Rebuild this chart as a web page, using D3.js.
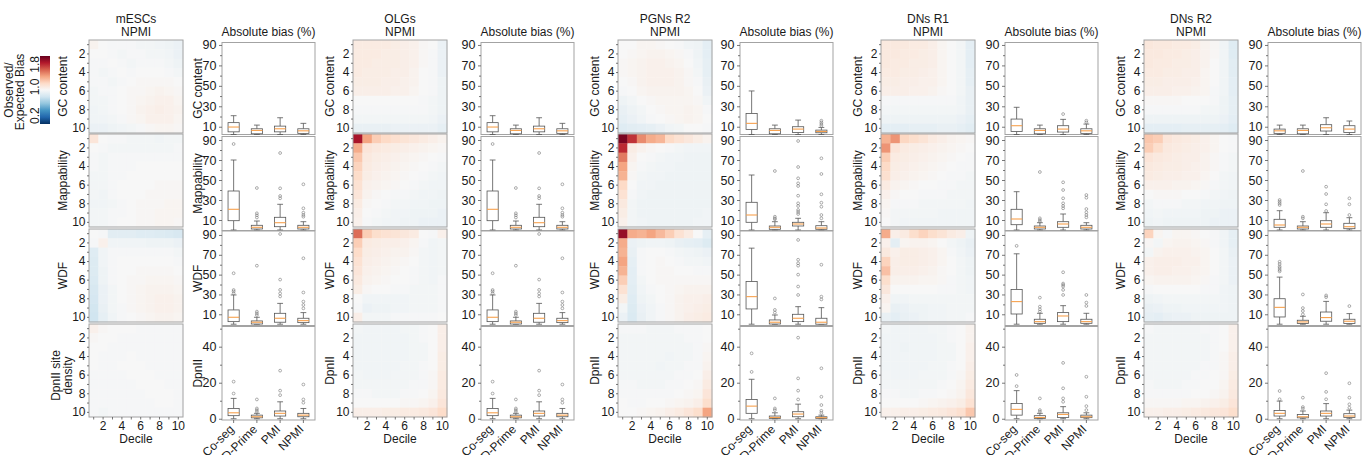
<!DOCTYPE html>
<html>
<head>
<meta charset="utf-8">
<script src="https://cdn.jsdelivr.net/npm/d3@7"></script>
<style>
body{margin:0;background:#fff}
text{font-family:"Liberation Sans",Arial,sans-serif;fill:#1a1a1a}
</style>
</head>
<body>
<svg id="chart" width="1362" height="455"></svg>
<script>
// labels
const groups = ['mESCs', 'OLGs', 'PGNs R2', 'DNs R1', 'DNs R2'];
const methods = ['Co-seg', 'D-Prime', 'PMI', 'NPMI'];
const heatLabels = ['GC content', 'Mappability', 'WDF', 'DpnII'];
const firstHeatLabels = [['GC content'], ['Mappability'], ['WDF'], ['DpnII site', 'density']];
const deciles = [1,2,3,4,5,6,7,8,9,10];
const cbarTicks = [0.2, 1.0, 1.8];
const majorTicks = [10, 30, 50, 70, 90];
const minorTicks = [20, 40, 60, 80];
const dpnMajor = [0, 20, 40];
const dpnMinor = [10, 30, 50];

// observed / expected heatmaps (row decile x column decile)
const mescGC = [
 [1.03,1.00,0.99,0.99,0.99,0.98,0.98,0.97,0.96,0.95],
 [1.00,1.00,0.99,0.98,0.99,0.99,0.98,0.98,0.97,0.95],
 [0.99,0.99,1.00,0.99,0.98,0.99,0.99,0.99,0.98,0.96],
 [0.99,0.98,0.99,1.00,0.99,1.00,1.00,1.00,0.99,0.98],
 [0.99,0.99,0.98,0.99,1.00,1.01,1.01,1.01,1.01,1.00],
 [0.98,0.99,0.99,1.00,1.01,1.01,1.02,1.03,1.02,1.01],
 [0.98,0.98,0.99,1.00,1.01,1.02,1.03,1.04,1.04,1.02],
 [0.97,0.98,0.99,1.00,1.01,1.03,1.04,1.05,1.04,1.03],
 [0.97,0.97,0.98,0.99,1.01,1.02,1.04,1.04,1.04,1.02],
 [0.95,0.95,0.96,0.97,0.98,0.99,1.01,1.02,1.02,1.01]];
const mescMap = [
 [1.10,1.00,0.99,0.99,0.98,0.98,0.98,0.97,0.98,0.98],
 [1.00,0.99,0.98,0.98,0.98,0.98,0.98,0.98,0.98,0.99],
 [0.99,0.98,0.99,0.99,0.99,0.99,0.99,0.99,0.99,0.99],
 [0.99,0.98,0.99,0.99,0.99,1.00,1.00,1.00,1.00,1.00],
 [0.98,0.98,0.99,0.99,1.00,1.00,1.00,1.00,1.00,1.00],
 [0.98,0.98,0.99,1.00,1.00,1.00,1.00,1.01,1.01,1.01],
 [0.98,0.97,0.99,1.00,1.00,1.00,1.01,1.01,1.01,1.01],
 [0.97,0.97,0.98,0.99,1.00,1.01,1.01,1.01,1.02,1.02],
 [0.98,0.98,0.99,0.99,1.00,1.01,1.01,1.02,1.02,1.02],
 [0.98,0.98,0.99,1.00,1.00,1.01,1.01,1.02,1.02,1.01]];
const mescWDF = [
 [1.00,0.99,0.91,0.91,0.91,0.90,0.90,0.89,0.88,0.87],
 [0.99,1.04,0.97,0.97,0.97,0.97,0.96,0.96,0.96,0.95],
 [0.90,0.97,0.99,0.99,0.99,0.99,0.99,0.99,0.99,0.98],
 [0.89,0.97,0.99,1.00,1.00,1.00,1.00,1.00,1.00,0.99],
 [0.89,0.96,0.99,1.00,1.00,1.01,1.01,1.01,1.01,1.00],
 [0.88,0.96,0.99,1.00,1.01,1.01,1.02,1.02,1.02,1.01],
 [0.87,0.95,0.98,1.00,1.01,1.02,1.03,1.03,1.03,1.02],
 [0.86,0.95,0.98,1.00,1.01,1.02,1.03,1.04,1.04,1.03],
 [0.85,0.94,0.98,0.99,1.01,1.02,1.03,1.04,1.04,1.03],
 [0.84,0.93,0.97,0.99,1.00,1.01,1.02,1.03,1.03,1.02]];
const mescDpn = [
 [1.04,1.01,1.00,1.00,1.00,0.99,0.99,0.99,0.99,0.99],
 [1.01,1.00,1.00,0.99,0.99,0.99,0.99,0.99,0.99,0.99],
 [1.00,1.00,0.99,0.99,0.99,0.99,0.99,0.99,0.99,0.99],
 [1.00,0.99,0.99,0.99,1.00,0.99,0.99,0.99,0.99,0.99],
 [1.00,0.99,0.99,1.00,1.00,1.00,0.99,0.99,0.99,0.99],
 [0.99,0.99,0.99,0.99,1.00,1.00,1.00,0.99,0.99,0.99],
 [0.99,0.99,0.99,0.99,0.99,1.00,1.00,1.00,0.99,0.99],
 [0.99,0.99,0.99,0.99,0.99,0.99,1.00,1.00,1.00,0.99],
 [0.99,0.99,0.99,0.99,0.99,0.99,0.99,1.00,1.00,0.99],
 [0.99,0.98,0.99,0.99,0.99,0.99,0.99,0.99,0.99,0.99]];

const olgGC = [
 [1.07,1.07,1.07,1.07,1.06,1.05,1.04,1.01,1.00,0.95],
 [1.07,1.07,1.07,1.06,1.06,1.05,1.04,1.01,0.99,0.95],
 [1.07,1.07,1.06,1.06,1.06,1.05,1.04,1.01,0.99,0.95],
 [1.07,1.06,1.06,1.06,1.05,1.05,1.03,1.00,0.99,0.95],
 [1.06,1.06,1.06,1.05,1.05,1.04,1.03,1.00,0.99,0.96],
 [1.05,1.05,1.05,1.05,1.04,1.04,1.02,1.00,0.99,0.96],
 [1.00,1.00,1.00,1.00,1.00,1.00,1.00,0.99,0.98,0.96],
 [0.99,0.99,0.99,0.99,0.99,0.99,0.99,0.99,0.98,0.96],
 [0.98,0.98,0.98,0.98,0.98,0.98,0.98,0.98,0.97,0.95],
 [0.94,0.94,0.94,0.94,0.95,0.95,0.95,0.95,0.95,0.93]];
const olgMap = [
 [1.66,1.32,1.20,1.16,1.13,1.11,1.09,1.07,1.05,1.03],
 [1.30,1.10,1.08,1.07,1.06,1.05,1.04,1.03,1.02,1.01],
 [1.22,1.08,1.06,1.05,1.04,1.03,1.02,1.01,1.00,0.99],
 [1.18,1.07,1.05,1.04,1.03,1.02,1.01,1.00,0.99,0.98],
 [1.15,1.06,1.04,1.03,1.02,1.01,1.00,0.99,0.98,0.97],
 [1.12,1.04,1.03,1.02,1.01,1.00,0.99,0.98,0.97,0.97],
 [1.10,1.03,1.01,1.00,0.99,0.99,0.98,0.97,0.97,0.96],
 [1.07,1.01,1.00,0.99,0.98,0.98,0.97,0.97,0.96,0.96],
 [1.05,1.00,0.99,0.98,0.97,0.97,0.96,0.96,0.96,0.95],
 [1.04,0.99,0.98,0.97,0.97,0.96,0.96,0.95,0.95,0.95]];
const olgWDF = [
 [1.45,1.20,1.14,1.12,1.11,1.09,1.07,1.00,0.99,1.04],
 [1.20,1.07,1.06,1.05,1.05,1.04,1.02,0.99,0.97,0.98],
 [1.15,1.06,1.05,1.04,1.03,1.03,1.01,0.98,0.97,0.98],
 [1.12,1.05,1.04,1.03,1.02,1.01,1.00,0.98,0.97,0.98],
 [1.10,1.04,1.03,1.02,1.01,1.00,0.99,0.98,0.97,0.98],
 [1.08,1.03,1.02,1.01,1.00,1.00,0.99,0.98,0.97,0.99],
 [1.06,1.01,1.00,1.00,0.99,0.99,0.98,0.98,0.98,0.99],
 [1.00,0.97,0.97,0.97,0.97,0.97,0.98,0.98,0.98,0.99],
 [0.99,0.95,0.96,0.96,0.97,0.97,0.98,0.98,0.98,0.99],
 [1.05,0.98,0.98,0.98,0.99,0.99,0.99,0.99,0.99,1.00]];
const olgDpn = [
 [0.98,0.97,0.97,0.97,0.97,0.98,0.98,0.99,1.00,1.05],
 [0.97,0.97,0.97,0.97,0.97,0.97,0.98,0.99,1.00,1.05],
 [0.97,0.97,0.97,0.97,0.97,0.97,0.98,0.98,1.00,1.05],
 [0.97,0.97,0.97,0.97,0.97,0.97,0.98,0.98,1.00,1.06],
 [0.97,0.97,0.97,0.97,0.97,0.98,0.98,0.99,1.00,1.06],
 [0.98,0.97,0.97,0.97,0.98,0.98,0.98,0.99,1.01,1.07],
 [0.98,0.98,0.98,0.98,0.98,0.98,0.99,0.99,1.01,1.07],
 [0.99,0.99,0.98,0.98,0.98,0.99,0.99,1.00,1.02,1.08],
 [1.00,1.00,1.00,1.00,1.00,1.01,1.01,1.02,1.04,1.10],
 [1.05,1.05,1.05,1.06,1.06,1.07,1.07,1.08,1.10,1.15]];

const pgnGC = [
 [1.00,1.00,1.02,1.02,1.01,1.00,0.99,0.97,0.96,0.92],
 [1.00,1.01,1.02,1.03,1.03,1.02,1.01,0.99,0.96,0.92],
 [1.01,1.02,1.03,1.04,1.04,1.03,1.02,1.00,0.97,0.93],
 [1.01,1.02,1.03,1.04,1.04,1.04,1.03,1.01,0.98,0.93],
 [1.00,1.01,1.03,1.04,1.04,1.04,1.03,1.01,0.99,0.94],
 [0.99,1.00,1.02,1.03,1.03,1.03,1.03,1.02,1.00,0.95],
 [0.96,0.98,1.00,1.01,1.02,1.02,1.02,1.02,1.01,0.97],
 [0.94,0.96,0.98,1.00,1.01,1.02,1.02,1.03,1.02,0.99],
 [0.93,0.95,0.97,0.99,1.00,1.01,1.02,1.03,1.02,1.00],
 [0.90,0.91,0.92,0.93,0.95,0.97,0.98,1.00,1.00,0.99]];
const pgnMap = [
 [1.76,1.58,1.38,1.30,1.27,1.16,1.12,1.09,1.06,1.03],
 [1.60,1.06,1.03,1.01,1.00,0.99,0.98,0.97,0.97,0.97],
 [1.42,1.04,1.00,0.99,0.98,0.97,0.97,0.96,0.96,0.96],
 [1.32,1.02,0.99,0.98,0.97,0.97,0.96,0.96,0.96,0.96],
 [1.28,1.01,0.98,0.97,0.97,0.96,0.96,0.96,0.96,0.96],
 [1.16,1.00,0.97,0.97,0.96,0.96,0.96,0.96,0.96,0.96],
 [1.12,0.99,0.97,0.96,0.96,0.96,0.96,0.96,0.96,0.96],
 [1.08,0.98,0.96,0.96,0.96,0.96,0.96,0.96,0.96,0.96],
 [1.06,0.98,0.96,0.96,0.96,0.96,0.96,0.96,0.96,0.97],
 [1.04,0.98,0.97,0.96,0.96,0.96,0.96,0.96,0.97,0.97]];
const pgnWDF = [
 [1.70,1.30,1.28,1.32,1.26,1.20,1.12,1.07,1.00,0.93],
 [1.30,0.95,0.96,0.97,0.97,0.96,0.94,0.93,0.92,0.89],
 [1.28,0.94,0.99,1.00,1.00,0.99,0.98,0.97,0.96,0.95],
 [1.32,0.93,0.99,1.00,1.01,1.00,0.99,0.98,0.98,0.97],
 [1.28,0.92,0.99,1.00,1.01,1.01,1.00,1.00,0.99,0.99],
 [1.20,0.92,0.98,1.00,1.01,1.01,1.01,1.01,1.01,1.01],
 [1.12,0.91,0.97,0.99,1.00,1.01,1.02,1.03,1.03,1.03],
 [1.06,0.90,0.96,0.98,1.00,1.01,1.03,1.04,1.04,1.05],
 [0.98,0.89,0.95,0.97,0.99,1.01,1.03,1.04,1.05,1.06],
 [0.95,0.88,0.94,0.97,0.99,1.01,1.03,1.05,1.06,1.07]];
const pgnDpn = [
 [0.99,0.99,0.99,0.98,0.98,0.98,0.99,0.99,0.99,1.00],
 [0.98,0.98,0.98,0.98,0.98,0.98,0.98,0.99,0.99,1.00],
 [0.98,0.98,0.98,0.98,0.98,0.98,0.98,0.98,0.99,1.01],
 [0.98,0.98,0.98,0.98,0.98,0.97,0.98,0.98,0.99,1.02],
 [0.98,0.98,0.98,0.98,0.97,0.98,0.98,0.99,0.99,1.03],
 [0.98,0.98,0.98,0.98,0.98,0.98,0.99,0.99,1.00,1.05],
 [0.99,0.99,0.98,0.98,0.98,0.99,0.99,1.00,1.01,1.07],
 [0.99,0.99,0.99,0.99,0.99,0.99,1.00,1.01,1.02,1.10],
 [1.00,0.99,0.99,1.00,1.00,1.01,1.02,1.03,1.05,1.14],
 [1.00,1.00,1.01,1.02,1.03,1.05,1.07,1.10,1.14,1.32]];

const dn1GC = [
 [1.08,1.08,1.08,1.07,1.07,1.05,1.02,1.00,0.98,0.92],
 [1.08,1.08,1.07,1.07,1.06,1.05,1.02,1.00,0.98,0.92],
 [1.08,1.07,1.07,1.06,1.06,1.05,1.02,1.00,0.98,0.92],
 [1.07,1.07,1.06,1.06,1.05,1.04,1.02,1.00,0.98,0.93],
 [1.06,1.06,1.05,1.05,1.04,1.04,1.02,1.00,0.98,0.93],
 [1.05,1.05,1.05,1.04,1.04,1.03,1.01,1.00,0.98,0.94],
 [0.99,0.99,0.99,0.99,0.99,0.99,0.99,0.99,0.97,0.94],
 [0.98,0.98,0.98,0.98,0.98,0.98,0.98,0.98,0.97,0.94],
 [0.96,0.96,0.96,0.96,0.96,0.96,0.96,0.96,0.95,0.93],
 [0.92,0.92,0.92,0.93,0.93,0.93,0.94,0.94,0.93,0.91]];
const dn1Map = [
 [1.28,1.36,1.17,1.14,1.11,1.07,1.05,1.03,1.02,1.01],
 [1.36,1.10,1.07,1.06,1.05,1.04,1.03,1.02,1.01,1.00],
 [1.20,1.07,1.06,1.05,1.04,1.03,1.02,1.01,1.00,0.99],
 [1.16,1.06,1.05,1.04,1.03,1.02,1.01,1.00,0.99,0.99],
 [1.13,1.05,1.04,1.03,1.02,1.01,1.00,0.99,0.99,0.98],
 [1.07,1.03,1.02,1.01,1.00,1.00,0.99,0.99,0.98,0.98],
 [1.04,1.01,1.00,1.00,0.99,0.99,0.99,0.98,0.98,0.98],
 [1.02,0.99,0.99,0.99,0.98,0.98,0.98,0.98,0.98,0.97],
 [1.01,0.98,0.98,0.98,0.98,0.98,0.97,0.97,0.97,0.97],
 [1.00,0.98,0.97,0.97,0.97,0.97,0.97,0.97,0.97,0.97]];
const dn1WDF = [
 [1.30,1.05,1.07,1.14,1.18,1.14,1.11,1.07,1.05,0.96],
 [1.04,0.92,1.02,1.03,1.03,1.02,1.00,0.98,0.96,0.94],
 [1.08,1.04,1.06,1.06,1.05,1.04,1.02,0.99,0.97,0.95],
 [1.18,1.05,1.06,1.06,1.05,1.04,1.02,1.00,0.98,0.96],
 [1.24,1.05,1.05,1.05,1.04,1.03,1.01,1.00,0.98,0.96],
 [1.14,1.03,1.03,1.03,1.02,1.02,1.01,0.99,0.98,0.97],
 [1.09,1.00,1.00,1.00,1.00,1.00,0.99,0.99,0.98,0.97],
 [1.04,0.97,0.97,0.98,0.98,0.98,0.98,0.98,0.98,0.98],
 [1.02,0.94,0.95,0.96,0.96,0.97,0.97,0.98,0.98,0.98],
 [0.94,0.92,0.94,0.95,0.96,0.97,0.97,0.98,0.98,0.99]];
const dn1Dpn = [
 [0.98,0.97,0.97,0.97,0.97,0.98,0.98,0.99,1.00,1.03],
 [0.97,0.97,0.97,0.97,0.97,0.97,0.98,0.99,1.00,1.03],
 [0.97,0.97,0.96,0.97,0.97,0.97,0.98,0.98,1.00,1.04],
 [0.97,0.97,0.97,0.97,0.97,0.97,0.98,0.98,1.00,1.04],
 [0.97,0.97,0.97,0.97,0.97,0.98,0.98,0.99,1.00,1.05],
 [0.98,0.97,0.97,0.97,0.98,0.98,0.98,0.99,1.01,1.06],
 [0.98,0.98,0.98,0.98,0.98,0.98,0.99,1.00,1.02,1.07],
 [0.99,0.99,0.98,0.98,0.99,0.99,1.00,1.01,1.03,1.09],
 [1.00,1.00,1.00,1.00,1.01,1.02,1.03,1.04,1.06,1.12],
 [1.04,1.04,1.05,1.05,1.06,1.07,1.08,1.10,1.13,1.22]];

const dn2GC = [
 [1.09,1.08,1.08,1.07,1.07,1.06,1.03,1.01,0.97,0.90],
 [1.08,1.08,1.07,1.07,1.06,1.05,1.03,1.01,0.97,0.90],
 [1.08,1.07,1.07,1.06,1.06,1.05,1.03,1.00,0.97,0.91],
 [1.07,1.07,1.06,1.06,1.05,1.05,1.02,1.00,0.97,0.91],
 [1.06,1.06,1.05,1.05,1.05,1.04,1.02,1.00,0.97,0.92],
 [1.05,1.05,1.05,1.04,1.04,1.03,1.02,0.99,0.97,0.92],
 [1.01,1.01,1.01,1.01,1.00,1.00,1.00,0.99,0.96,0.93],
 [0.99,0.99,0.99,0.99,0.99,0.99,0.98,0.98,0.96,0.93],
 [0.96,0.96,0.96,0.96,0.96,0.96,0.96,0.96,0.95,0.92],
 [0.92,0.92,0.92,0.92,0.93,0.93,0.93,0.93,0.92,0.90]];
const dn2Map = [
 [1.22,1.20,1.10,1.08,1.07,1.06,1.04,1.02,1.00,0.99],
 [1.20,1.14,1.08,1.07,1.06,1.05,1.04,1.02,1.00,0.99],
 [1.10,1.08,1.07,1.06,1.05,1.05,1.03,1.01,0.99,0.98],
 [1.08,1.07,1.06,1.06,1.05,1.04,1.03,1.01,0.99,0.98],
 [1.07,1.06,1.05,1.05,1.04,1.04,1.02,1.00,0.98,0.97],
 [1.04,1.04,1.04,1.03,1.03,1.02,1.01,0.99,0.98,0.97],
 [1.00,1.01,1.01,1.01,1.00,1.00,0.99,0.98,0.97,0.96],
 [0.98,0.99,0.99,0.99,0.98,0.98,0.97,0.97,0.96,0.96],
 [0.97,0.98,0.97,0.97,0.97,0.97,0.96,0.96,0.95,0.95],
 [0.96,0.97,0.96,0.96,0.96,0.96,0.96,0.95,0.95,0.95]];
const dn2WDF = [
 [1.18,1.02,0.99,1.02,1.02,1.01,1.00,0.99,0.97,0.93],
 [1.01,0.98,1.02,1.03,1.03,1.02,1.01,0.99,0.97,0.93],
 [0.98,1.03,1.04,1.04,1.04,1.03,1.02,1.00,0.98,0.94],
 [1.04,1.05,1.05,1.05,1.04,1.04,1.02,1.00,0.98,0.95],
 [1.04,1.05,1.05,1.04,1.04,1.03,1.02,1.00,0.98,0.95],
 [1.02,1.03,1.03,1.03,1.03,1.02,1.01,0.99,0.98,0.95],
 [0.99,1.00,1.00,1.00,1.00,1.00,0.99,0.99,0.97,0.96],
 [0.96,0.97,0.98,0.98,0.98,0.98,0.98,0.98,0.97,0.96],
 [0.94,0.95,0.96,0.96,0.97,0.97,0.97,0.97,0.97,0.96],
 [0.93,0.92,0.94,0.95,0.95,0.96,0.96,0.96,0.96,0.96]];
const dn2Dpn = [
 [0.99,0.98,0.98,0.98,0.98,0.98,0.99,0.99,1.00,1.04],
 [0.98,0.98,0.98,0.98,0.98,0.98,0.98,0.99,1.00,1.04],
 [0.98,0.98,0.98,0.98,0.98,0.98,0.98,0.99,1.00,1.04],
 [0.98,0.98,0.98,0.98,0.98,0.98,0.98,0.99,1.01,1.05],
 [0.98,0.98,0.98,0.98,0.98,0.98,0.99,0.99,1.01,1.05],
 [0.98,0.98,0.98,0.98,0.98,0.99,0.99,1.00,1.01,1.06],
 [0.99,0.98,0.98,0.98,0.99,0.99,1.00,1.00,1.02,1.07],
 [0.99,0.99,0.99,0.99,0.99,1.00,1.00,1.01,1.03,1.08],
 [1.01,1.01,1.01,1.01,1.02,1.02,1.03,1.04,1.06,1.10],
 [1.04,1.04,1.05,1.05,1.06,1.07,1.08,1.09,1.10,1.14]];

// absolute bias boxes: [lower whisker, q1, median, q3, upper whisker, outliers]
const mescBoxGC  = [[1.5,5,9.7,14,20.8,[]], [1.5,3.1,6.4,8,11.6,[]], [1.5,5,8,10.6,18.8,[]], [1.5,3.5,6,8,13.3,[]]];
const mescBoxMap = [[0,9.3,20.7,39,70,[86]], [0,1,2.7,4.7,9,[42,16.7,14.7,12.5]], [0,3.3,7.3,12.7,25.7,[77,41.7,34,31.7]], [0,1,2.7,4.7,8.3,[45.7,21.7,17.3,15,13.3]]];
const mescBoxWDF = [[0,2.6,7,14.4,29.5,[51.4,34.5,33,31]], [0,0.2,2,3.3,7,[59,12.7,11,9.3]], [0,2,6,11,21,[91,45,34.6,31,28]], [0,1.6,3.6,6,11.7,[66.5,32,22.8,19.4,16]]];
const mescBoxDpn = [[0,1.7,3.3,5.7,11.3,[20.6,14]], [0,0.5,1.1,2,3,[10.7,5.7,4.8,3.9]], [0,1.5,3,4.3,9.4,[26.7,15.6,13.1]], [0,1.1,2,3,5.7,[19,10.7,8.9]]];

const olgBoxGC  = [[1.5,5,9.7,14,20.8,[]], [1.5,3.1,6.4,8,11.6,[]], [1.5,5,8,10.6,18.8,[]], [1.5,3.5,6,8,13.3,[]]];
const olgBoxMap = [[0,9.3,20.7,39,70,[86]], [0,1,2.7,4.7,9,[42,16.7,14.7,12.5]], [0,3.3,7.3,12.7,25.7,[77,41.7,34,31.7]], [0,1,2.7,4.7,8.3,[45.7,21.7,17.3,15,13.3]]];
const olgBoxWDF = [[0,2.6,7,14.4,29.5,[51.4,34.5,33,31]], [0,0.2,2,3.3,7,[59,12.7,11,9.3]], [0,2,6,11,21,[91,45,34.6,31,28]], [0,1.6,3.6,6,11.7,[66.5,32,22.8,19.4,16]]];
const olgBoxDpn = [[0,1.7,3.3,5.7,11.3,[20.6,14]], [0,0.5,1.1,2,3,[10.7,5.7,4.8,3.9]], [0,1.5,3,4.3,9.4,[26.7,15.6,13.1]], [0,1.1,2,3,5.7,[19,10.7,8.9]]];

const pgnBoxGC  = [[1.5,7.4,13.3,23,45,[]], [1.5,3.1,6.4,8,11.6,[]], [1.5,4.4,7.7,10,16.5,[]], [1.5,4.1,5.4,6.7,9.3,[15.9,14.2,12.6,11]]];
const pgnBoxMap = [[0,7.7,15,27.7,55,[]], [0,0.7,2.7,4,8.3,[59,13.3,11.7,10.7]], [0,4,6,7.7,11.7,[89,63,51.7,46.7,44,34.3,26.7,24,20,18,16]], [0,0.7,2,4.3,8.3,[71.7,56,35.7,27.3,23.3,15,11.7]]];
const pgnBoxWDF = [[0,15.4,27.8,43,76.7,[]], [0,0.2,2,4.3,9.3,[26,14.4,11.7]], [0,2.6,6,10,17.7,[85,65,61.5,59,50,38,29.5]], [0,0,2,6,16.7,[60,27.8,25]]];
const pgnBoxDpn = [[0,3,7,10.7,21.9,[36.3,26]], [0,0.2,0.7,1.5,3.3,[11.3,5.7,4.8]], [0,1.1,2.6,3.9,8.1,[45,22.4,15.6,10.7]], [0,0.2,0.6,1.1,2,[28,12.2,7.6,4.4,3.3]]];

const dn1BoxGC  = [[1.5,5.4,11,17.5,29,[]], [1.5,3.1,6.4,8,11.6,[]], [1.5,4.8,7.7,11,17.2,[22.4]], [1.5,3.5,6,8,12.6,[15.9,14.2]]];
const dn1BoxMap = [[0,5.3,11,20.7,38.3,[]], [0,1,2.7,4,7.3,[58,11.7,10,8.3]], [0,2.7,6,8.3,16,[47.7,40,31.7,26.7,24,21.7]], [0,1,2.7,4.7,7.3,[35,32.3,21,17.7,15,12.7]]];
const dn1BoxWDF = [[0,10.3,22.8,35,71,[79]], [0,0.9,2.6,5,11,[26.8,17.7,15,12.7]], [0,2.6,8.3,11.7,18.7,[52.4,41,39.6,38,34.6,29.5]], [0,0.9,2.6,5,11,[29.5,21.8,18.4]]];
const dn1BoxDpn = [[0,2,5.2,8.5,15.6,[24.3,18.1]], [0,0.2,0.7,1.7,3,[11.3,4.8,3.9]], [0,0.7,2.4,3.3,6.7,[31,16.9,11.3,9.4]], [0,0.6,1.1,2,3.3,[23.3,12.2,7,4.8]]];

const dn2BoxGC  = [[1.5,3.5,6,7.7,11.6,[]], [1.5,3.1,6.4,8,11.6,[]], [1.5,5.8,9,12,18.8,[]], [1.5,4.4,7.7,11,15.6,[]]];
const dn2BoxMap = [[0,2.7,5,10.7,19.3,[30,28.3,26.7,25]], [0,1,2.7,4,8.3,[59,13.3,11.7]], [0,2.7,6,9.3,17.3,[43.3,36,25.7,19]], [0,1.3,3.3,6.7,12.3,[31.7,25.7,15]]];
const dn2BoxWDF = [[0,7.3,17,25.7,47.5,[63,60.7,58.3,56.7,54.7,53.3]], [0,0.7,2.3,4,8,[30,16.3,13.3,10]], [0,3,6.7,12.3,23,[29,27.3]], [0,0.7,3,5,10.7,[18.3]]];
const dn2BoxDpn = [[0,1.5,3,4.6,9.8,[15.4,10.8]], [0,0.5,1.1,2.4,4.3,[11.7,6.5,5.6]], [0,1.5,3,4.3,8.4,[25.3,14.9,10.8]], [0,0.7,1.5,2.8,4.8,[19.7,11.7,8,6.1]]];

const heatData = [
  [mescGC, mescMap, mescWDF, mescDpn],
  [olgGC, olgMap, olgWDF, olgDpn],
  [pgnGC, pgnMap, pgnWDF, pgnDpn],
  [dn1GC, dn1Map, dn1WDF, dn1Dpn],
  [dn2GC, dn2Map, dn2WDF, dn2Dpn]];
const boxData = [
  [mescBoxGC, mescBoxMap, mescBoxWDF, mescBoxDpn],
  [olgBoxGC, olgBoxMap, olgBoxWDF, olgBoxDpn],
  [pgnBoxGC, pgnBoxMap, pgnBoxWDF, pgnBoxDpn],
  [dn1BoxGC, dn1BoxMap, dn1BoxWDF, dn1BoxDpn],
  [dn2BoxGC, dn2BoxMap, dn2BoxWDF, dn2BoxDpn]];

// layout
const heatLeft = [89, 353, 618, 881, 1144];
const heatW = 94, heatH = 93;
const heatTop = [40, 134, 229, 324];
const boxLeft = [222, 481, 740, 1005, 1268];
const boxW = 93;
const boxFrame = [[42.5, 134.5], [136.5, 230.5], [231, 325.5], [326.5, 420]];
const boxDomain = [[2.4, 92.4], [-0.5, 93.5], [-1.3, 94], [-0.7, 51.2]];
const frameColor = '#a3a3a3';

const svg = d3.select('#chart');
svg.append('rect').attr('width', 1362).attr('height', 455).attr('fill', '#fff');

// diverging red-blue map, linear between the eleven brewer colours (red = high)
const rdbu = ['#053061','#2166ac','#4393c3','#92c5de','#d1e5f0','#f7f7f7','#fddbc7','#f4a582','#d6604d','#b2182b','#67001f'];
const color = d3.scaleLinear()
  .domain(rdbu.map((c, i) => 0.2 + i * 0.16))
  .range(rdbu)
  .interpolate(d3.interpolateRgb)
  .clamp(true);

function styleAxis(g, size) {
  g.select('.domain').remove();
  g.attr('font-family', null).attr('font-size', null);
  g.selectAll('.tick line').attr('stroke', '#555').attr('stroke-width', 0.8);
  g.selectAll('.tick text').style('font-size', size + 'px').attr('fill', '#1a1a1a');
}

function rotLabel(x, y, lines, size) {
  const t = svg.append('text')
    .attr('transform', `translate(${x},${y}) rotate(-90)`)
    .attr('text-anchor', 'middle')
    .style('font-size', size + 'px');
  lines.forEach((l, i) => {
    t.append('tspan').attr('x', 0).attr('dy', i === 0 ? 0 : 12).text(l);
  });
  return t;
}

groups.forEach((gname, gi) => {
  const hl = heatLeft[gi];
  const bl = boxLeft[gi];
  const hx = d3.scaleBand().domain(deciles).range([hl, hl + heatW]);

  // titles
  svg.append('text').attr('x', hl + heatW / 2).attr('y', 23).attr('text-anchor', 'middle')
    .style('font-size', '12px').text(gname);
  svg.append('text').attr('x', hl + heatW / 2).attr('y', 35.5).attr('text-anchor', 'middle')
    .style('font-size', '12px').text('NPMI');
  svg.append('text').attr('x', bl + boxW / 2).attr('y', 35.5).attr('text-anchor', 'middle')
    .style('font-size', '12px').text('Absolute bias (%)');

  heatLabels.forEach((lab, ri) => {
    const ht = heatTop[ri];
    const hy = d3.scaleBand().domain(deciles).range([ht, ht + heatH]);
    const mat = heatData[gi][ri];
    const cells = [];
    mat.forEach((row, i) => row.forEach((v, j) => cells.push({r: i + 1, c: j + 1, v})));

    svg.append('g').selectAll('rect').data(cells).join('rect')
      .attr('x', d => hx(d.c)).attr('y', d => hy(d.r))
      .attr('width', hx.bandwidth() + 0.4).attr('height', hy.bandwidth() + 0.4)
      .attr('fill', d => color(d.v));
    svg.append('rect').attr('x', hl).attr('y', ht).attr('width', heatW).attr('height', heatH)
      .attr('fill', 'none').attr('stroke', frameColor).attr('stroke-width', 1);

    const ya = svg.append('g').attr('transform', `translate(${hl},0)`)
      .call(d3.axisLeft(hy).tickSize(2).tickPadding(1.5).tickFormat(d => d % 2 === 0 ? d : ''));
    styleAxis(ya, 12);

    if (ri === 3) {
      const xa = svg.append('g').attr('transform', `translate(0,${ht + heatH})`)
        .call(d3.axisBottom(hx).tickSize(2.5).tickPadding(2).tickFormat(d => d % 2 === 0 ? d : ''));
      styleAxis(xa, 12);
      svg.append('text').attr('x', hl + heatW / 2).attr('y', 443).attr('text-anchor', 'middle')
        .style('font-size', '12px').text('Decile');
    }

    // row label for heatmap
    if (gi === 0) {
      const lines = firstHeatLabels[ri];
      if (lines.length === 1) rotLabel(hl - 22, ht + heatH / 2, lines, 12);
      else rotLabel(hl - 29.5, ht + heatH / 2 + 5, lines, 12);
    } else {
      rotLabel(hl - 19, ht + heatH / 2, [lab], 12);
    }

    // box panel
    const bx = d3.scaleBand().domain(methods).range([bl, bl + boxW]);
    const fr = boxFrame[ri];
    const dom = boxDomain[ri];
    const by = d3.scaleLinear().domain(dom).range([fr[1], fr[0]]);
    const cy = v => by(Math.max(dom[0], Math.min(dom[1], v)));

    svg.append('rect').attr('x', bl).attr('y', fr[0]).attr('width', boxW).attr('height', fr[1] - fr[0])
      .attr('fill', '#fff').attr('stroke', frameColor).attr('stroke-width', 1);

    const maj = ri === 3 ? dpnMajor : majorTicks;
    const mnr = ri === 3 ? dpnMinor : minorTicks;
    const ba = svg.append('g').attr('transform', `translate(${bl},0)`)
      .call(d3.axisLeft(by).tickValues(maj).tickSize(3).tickPadding(2.5));
    styleAxis(ba, 12.5);
    const bm = svg.append('g').attr('transform', `translate(${bl},0)`)
      .call(d3.axisLeft(by).tickValues(mnr).tickSize(2).tickFormat(''));
    styleAxis(bm, 12);

    const bg = svg.append('g');
    boxData[gi][ri].forEach((b, mi) => {
      const [lo, q1, med, q3, hi, outs] = b;
      const cx = bx(methods[mi]) + bx.bandwidth() / 2;
      const hw = bx.bandwidth() * 0.24, cw = bx.bandwidth() * 0.125;
      const ln = (x1, y1, x2, y2, col, w) => bg.append('line')
        .attr('x1', x1).attr('y1', y1).attr('x2', x2).attr('y2', y2)
        .attr('stroke', col).attr('stroke-width', w);
      ln(cx, cy(q3), cx, cy(hi), '#555', 0.8);
      ln(cx, cy(q1), cx, cy(lo), '#555', 0.8);
      ln(cx - cw, cy(hi), cx + cw, cy(hi), '#555', 0.8);
      ln(cx - cw, cy(lo), cx + cw, cy(lo), '#555', 0.8);
      bg.append('rect').attr('x', cx - hw).attr('y', cy(q3))
        .attr('width', hw * 2).attr('height', Math.max(0.5, cy(q1) - cy(q3)))
        .attr('fill', '#fff').attr('stroke', '#555').attr('stroke-width', 0.8);
      ln(cx - hw, cy(med), cx + hw, cy(med), '#f7a14e', 1.1);
      bg.selectAll(null).data(outs).join('circle')
        .attr('cx', cx).attr('cy', d => cy(d)).attr('r', 1.4)
        .attr('fill', 'none').attr('stroke', '#777').attr('stroke-width', 0.6);
    });

    if (gi === 0) rotLabel(bl - 20, (fr[0] + fr[1]) / 2, [lab], 12);

    if (ri === 3) {
      const xb = svg.append('g').attr('transform', `translate(0,${fr[1]})`)
        .call(d3.axisBottom(bx).tickSize(3).tickFormat(''));
      styleAxis(xb, 12);
      svg.append('g').selectAll('text').data(methods).join('text')
        .attr('transform', d => `translate(${bx(d) + bx.bandwidth() / 2 + 1},${fr[1] + 10}) rotate(-45)`)
        .attr('text-anchor', 'end')
        .style('font-size', '12px')
        .text(d => d);
    }
  });
});

// colour bar
const cbY = d3.scaleLinear().domain([0.2, 1.8]).range([124, 56]);
const grad = svg.append('defs').append('linearGradient').attr('id', 'cbar')
  .attr('x1', 0).attr('y1', 1).attr('x2', 0).attr('y2', 0);
color.domain().forEach((v, i) => {
  grad.append('stop').attr('offset', (v - 0.2) / 1.6).attr('stop-color', rdbu[i]);
});
svg.append('rect').attr('x', 40).attr('y', cbY(1.8)).attr('width', 10)
  .attr('height', cbY(0.2) - cbY(1.8)).attr('fill', 'url(#cbar)');
svg.append('g').selectAll('text').data(cbarTicks).join('text')
  .attr('transform', d => `translate(39,${d === 1.0 ? cbY(d) - 3 : cbY(d)}) rotate(-90)`)
  .attr('text-anchor', d => d === 1.8 ? 'end' : (d === 0.2 ? 'start' : 'middle'))
  .style('font-size', '12px')
  .text(d => d.toFixed(1));
rotLabel(12.5, 90, ['Observed/'], 12);
rotLabel(23.5, 92, ['Expected Bias'], 12);
</script>
</body>
</html>
